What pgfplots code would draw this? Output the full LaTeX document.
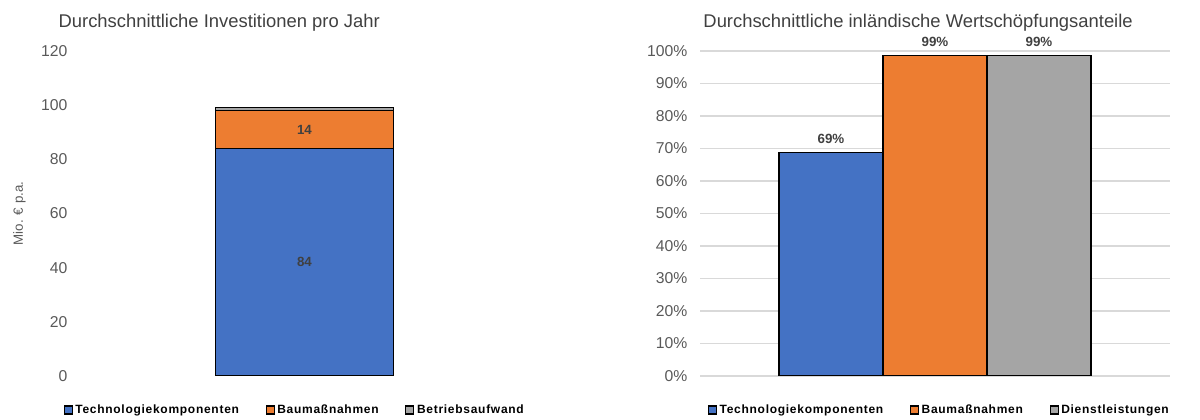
\documentclass[border=0pt]{standalone}
\usepackage{pgfplots}
\pgfplotsset{compat=1.18}
\usepackage{fontspec}
\setmainfont{Liberation Sans}
\newfontfamily\legfont[LetterSpace=6]{Liberation Sans}
\definecolor{cblue}{HTML}{4472C4}
\definecolor{corange}{HTML}{ED7D31}
\definecolor{cgrey}{HTML}{A5A5A5}
\definecolor{tickc}{HTML}{595959}
\definecolor{titc}{HTML}{404040}
\definecolor{labc}{HTML}{404040}
\definecolor{gridc}{HTML}{D9D9D9}
\pgfplotsset{
  mystyle/.style={
    scale only axis,
    axis line style={draw=none},
    major tick length=0pt,
    tick label style={font=\fontsize{11.8}{13}\selectfont, text=tickc},
    yticklabel style={xshift=-6pt},
    /pgf/number format/assume math mode=true,
    xtick=\empty,
    title style={font=\fontsize{13.8}{16}\selectfont, text=titc},
    legend style={draw=none, fill=none, font=\legfont\bfseries\fontsize{9}{11}\selectfont, text=black,
      legend columns=3, /tikz/every even column/.append style={column sep=18pt},
      inner sep=0pt},
  },
  myleg/.style={
    legend image code/.code={\draw[##1, draw=black, line width=0.8pt] (0pt,-3pt) rectangle (6pt,3pt);},
  }
}
\begin{document}
\begin{tikzpicture}
\useasboundingbox (0,0) rectangle (900pt,315pt);
% left chart
\begin{axis}[mystyle,
  at={(60pt,33pt)}, anchor=south west,
  width=336.75pt, height=243.75pt,
  xmin=0, xmax=1, ymin=0, ymax=120,
  ytick={0,20,...,120},
  ybar stacked, bar width=134pt,
  myleg,
  ylabel={Mio. € p.a.},
  ylabel style={font=\fontsize{10}{12}\selectfont, text=tickc, at={(axis description cs:-0.135,0.5)}, anchor=center},
  title={Durchschnittliche Investitionen pro Jahr},
  title style={at={(axis description cs:0.31,1)}, anchor=center, yshift=15.5pt},
  legend style={at={(axis description cs:0.479,0)}, anchor=center, yshift=-25.5pt},
  point meta=explicit symbolic,
  nodes near coords,
  nodes near coords style={font=\bfseries\fontsize{10}{12}\selectfont, text=labc, anchor=center},
]
\addplot[fill=cblue, draw=black, line width=0.8pt] coordinates {(0.5,84) [84]};
\addplot[fill=corange, draw=black, line width=0.8pt] coordinates {(0.5,14) [14]};
\addplot[fill=cgrey, draw=black, line width=0.8pt, nodes near coords={}] coordinates {(0.5,1) []};
\legend{Technologiekomponenten, Baumaßnahmen, Betriebsaufwand}
\end{axis}
% right chart
\begin{axis}[mystyle,
  at={(525pt,33pt)}, anchor=south west,
  width=352.5pt, height=243.75pt,
  xmin=-1, xmax=1, ymin=0, ymax=100,
  ytick={0,10,...,100},
  yticklabel={\pgfmathprintnumber{\tick}\%},
  ymajorgrids, grid style={gridc, line width=0.8pt},
  ybar=0pt, bar width=78pt,
  myleg,
  title={Durchschnittliche inländische Wertschöpfungsanteile},
  title style={at={(axis description cs:0.464,1)}, anchor=center, yshift=15.5pt},
  legend style={at={(axis description cs:0.51,0)}, anchor=center, yshift=-25.5pt},
  point meta=explicit symbolic,
  nodes near coords,
  nodes near coords style={font=\bfseries\fontsize{10}{12}\selectfont, text=labc, anchor=south, yshift=3pt},
]
\addplot[fill=cblue, draw=black, line width=0.8pt] coordinates {(0,68.8) [69\%]};
\addplot[fill=corange, draw=black, line width=0.8pt] coordinates {(0,98.5) [99\%]};
\addplot[fill=cgrey, draw=black, line width=0.8pt] coordinates {(0,98.5) [99\%]};
\legend{Technologiekomponenten, Baumaßnahmen, Dienstleistungen}
\end{axis}
\end{tikzpicture}
\end{document}
